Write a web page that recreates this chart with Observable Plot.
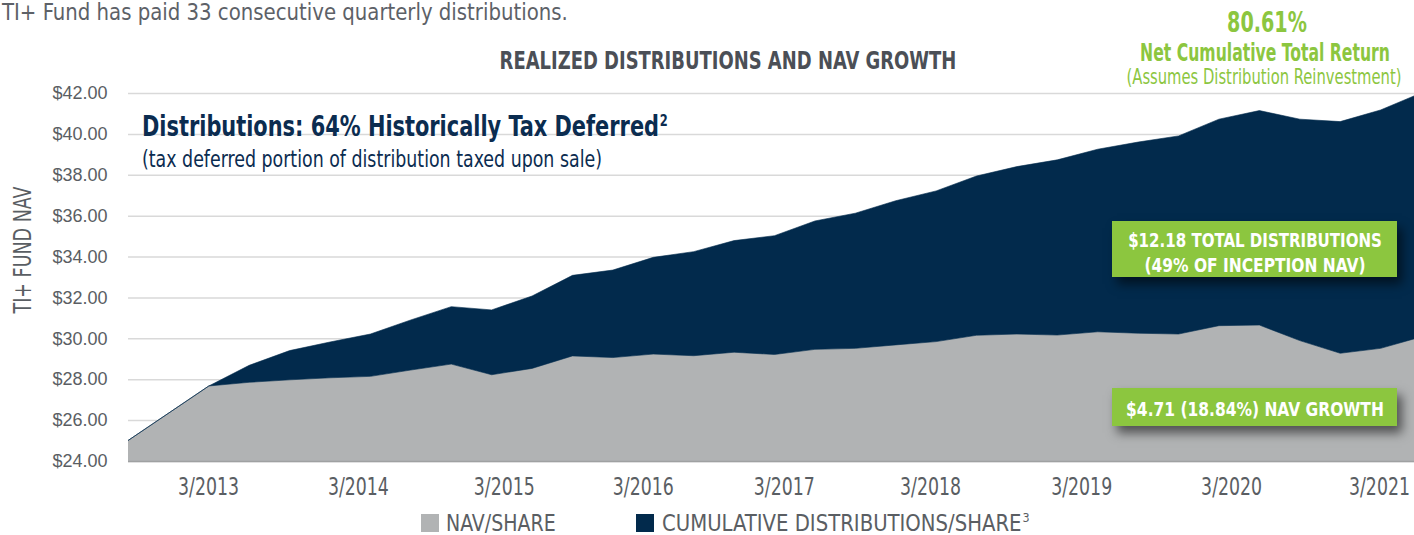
<!DOCTYPE html>
<html>
<head>
<meta charset="utf-8">
<script src="https://cdn.jsdelivr.net/npm/d3@7"></script>
<script src="https://cdn.jsdelivr.net/npm/@observablehq/plot@0.6"></script>
<style>
  html, body { margin: 0; padding: 0; background: #fff; overflow: hidden; }
  #wrap { position: relative; width: 1414px; height: 535px; overflow: hidden; }
  #chart { width: 1421px; height: 505px; }
  #chart svg { max-width: none !important; display: block; }
  .narrow { font-family: "Liberation Sans Narrow", "Arial Narrow", "DejaVu Sans Condensed", sans-serif; }
  .abs { position: absolute; white-space: nowrap; line-height: 1; }
  .L { transform-origin: 0 50%; }
  .green { color: #8cc63f; }
  .box { position: absolute; background: #8cc63f; color: #fff; font-weight: bold;
         box-shadow: 5px 7px 10px rgba(0,0,0,0.55); font-size: 20px; }
  .box span { position: absolute; left: 50%; white-space: nowrap; line-height: 1; }
  #legend { position: relative; width: 1414px; height: 30px; }
  .sw { position: absolute; width: 18px; height: 18px; top: 9px; }
  .lt { position: absolute; top: 7px; font-size: 23px; color: #5a5e63; line-height: 1; white-space: nowrap; transform-origin: 0 50%; }
</style>
</head>
<body>
<div id="wrap">
  <div id="chart"></div>
  <div id="legend" class="narrow">
    <div class="sw" id="sw0" style="left:421px;"></div>
    <div class="lt" id="lt0" style="left:446px;" data-w="110"></div>
    <div class="sw" id="sw1" style="left:636px;"></div>
    <div class="lt" id="lt1" style="left:662px;" data-w="368"></div>
  </div>

  <div class="abs narrow L" style="left:2px; top:2px; font-size:23px; line-height:20px; color:#5d6167;" data-w="566">TI+ Fund has paid 33 consecutive quarterly distributions.</div>
  <div class="abs narrow" style="left:728px; top:48px; font-size:25px; font-weight:bold; color:#4b4f56;" data-w="457" data-c="1">REALIZED DISTRIBUTIONS AND NAV GROWTH</div>

  <div class="abs narrow green" style="left:1267px; top:8px; font-size:29px; font-weight:bold;" data-w="80" data-c="1">80.61%</div>
  <div class="abs narrow green" style="left:1265px; top:41px; font-size:24px; font-weight:bold;" data-w="250" data-c="1">Net Cumulative Total Return</div>
  <div class="abs narrow green" style="left:1264px; top:67px; font-size:21px;" data-w="275" data-c="1">(Assumes Distribution Reinvestment)</div>

  <div class="abs narrow L" style="left:142px; top:112px; font-size:29px; font-weight:bold; color:#0b2c50;" data-w="526">Distributions: 64% Historically Tax Deferred<span style="font-size:16px; position:relative; top:-10px; margin-left:1px;">2</span></div>
  <div class="abs narrow L" style="left:142px; top:148px; font-size:23px; color:#0b2c50;" data-w="460">(tax deferred portion of distribution taxed upon sale)</div>

  <div class="box narrow" style="left:1112px; top:221px; width:285px; height:56px;"><span style="top:8.5px;" data-w="254" data-c="1">$12.18 TOTAL DISTRIBUTIONS</span><span style="top:33.5px;" data-w="221" data-c="1">(49% OF INCEPTION NAV)</span></div>
  <div class="box narrow" style="left:1112px; top:388px; width:285px; height:38px;"><span style="top:10.5px;" data-w="258" data-c="1">$4.71 (18.84%) NAV GROWTH</span></div>

  <div class="abs narrow" id="ylab" style="left:22px; top:250px; font-size:25px; color:#5a5e63;" data-w="127" data-r="1">TI+ FUND NAV</div>
</div>

<script>
// ---- Data ----
// quarter index: 0 = inception, then quarterly points
const quarterIndex = [0, 2, 3, 4, 5, 6, 7, 8, 9, 10, 11, 12, 13, 14, 15, 16, 17, 18, 19, 20, 21, 22, 23, 24, 25, 26, 27, 28, 29, 30, 31, 32];
const navPerShare = [25.00, 27.67, 27.85, 27.97, 28.07, 28.14, 28.45, 28.74, 28.22, 28.53, 29.14, 29.06, 29.23, 29.15, 29.32, 29.21, 29.46, 29.51, 29.68, 29.84, 30.15, 30.21, 30.16, 30.32, 30.25, 30.21, 30.62, 30.65, 29.89, 29.27, 29.51, 30.07];
const cumulativeDistributions = [0, 0, 0.83, 1.43, 1.75, 2.07, 2.45, 2.81, 3.17, 3.54, 3.94, 4.28, 4.73, 5.09, 5.46, 5.81, 6.28, 6.61, 7.05, 7.37, 7.79, 8.19, 8.57, 8.93, 9.35, 9.69, 10.10, 10.49, 10.83, 11.33, 11.66, 11.93];

const seriesNames = ["NAV/SHARE", "CUMULATIVE DISTRIBUTIONS/SHARE"];
const seriesColors = ["#b1b3b4", "#022a4c"];

const yTicks = [24, 26, 28, 30, 32, 34, 36, 38, 40, 42];
const xTickPositions = [1.98, 5.69, 9.30, 12.74, 16.23, 19.85, 23.59, 27.30, 30.96];
const xTickLabels = ["3/2013", "3/2014", "3/2015", "3/2016", "3/2017", "3/2018", "3/2019", "3/2020", "3/2021"];

// ---- Build table ----
const rows = quarterIndex.flatMap((q, i) => [
  {q, series: seriesNames[0], value: navPerShare[i]},
  {q, series: seriesNames[1], value: cumulativeDistributions[i]}
]);
const tickLabel = new Map(xTickPositions.map((p, i) => [p, xTickLabels[i]]));

const narrow = '"Liberation Sans Narrow", "Arial Narrow", "DejaVu Sans Condensed", sans-serif';

const chart = Plot.plot({
  width: 1421,
  height: 505,
  marginLeft: 128,
  marginRight: 0,
  marginTop: 93,
  marginBottom: 44,
  style: {background: "transparent", color: "#5a5e63", maxWidth: "none"},
  x: {domain: [0, 32]},
  y: {domain: [24, 42]},
  color: {domain: seriesNames, range: seriesColors},
  marks: [
    Plot.gridY(yTicks, {stroke: "#d9d9d9", strokeOpacity: 1, strokeWidth: 1.5}),
    Plot.areaY(rows, {x: "q", y: "value", fill: "series", stroke: "series", strokeWidth: 0.6, clip: true}),
    Plot.ruleY([24], {stroke: "#9fa1a2", strokeWidth: 1.5}),
    Plot.axisY(yTicks, {
      tickSize: 0, tickPadding: 21, label: null,
      tickFormat: d => "$" + d.toFixed(2),
      fontSize: 18, fontFamily: '"Liberation Sans", Arial, sans-serif', fill: "#5a5e63"
    }),
    Plot.axisX(xTickPositions, {
      tickSize: 0, tickPadding: 16, label: null,
      tickFormat: d => tickLabel.get(d),
      fontSize: 24, fontFamily: narrow, fill: "#5a5e63"
    })
  ]
});
document.getElementById("chart").appendChild(chart);

// condense the x tick labels horizontally (narrow type in the reference),
// keeping each label centred where Plot placed it
chart.querySelectorAll("text").forEach(t => {
  if (!xTickLabels.includes(t.textContent.trim())) return;
  const cur = t.getComputedTextLength();
  if (!(cur > 0)) { t.style.fontSize = "20px"; return; }
  const s = 61 / cur;
  const r0 = t.getBoundingClientRect();
  const x = +t.getAttribute("x") || 0, y = +t.getAttribute("y") || 0;
  t.removeAttribute("x"); t.removeAttribute("y");
  const base = t.getAttribute("transform") || "";
  const tf = `${base} translate(${x},${y}) scale(${s},1)`;
  t.setAttribute("transform", tf);
  const r1 = t.getBoundingClientRect();
  const fx = (r0.x + r0.width / 2) - (r1.x + r1.width / 2);
  const fy = (r0.y + r0.height / 2) - (r1.y + r1.height / 2);
  t.setAttribute("transform", `translate(${fx},${fy}) ${tf}`);
});

// ---- Legend (HTML, below the SVG) ----
seriesNames.forEach((name, i) => {
  document.getElementById("sw" + i).style.background = seriesColors[i];
  const el = document.getElementById("lt" + i);
  el.textContent = name;
  if (i === 1) {
    const sup = document.createElement("span");
    sup.textContent = "3";
    sup.style.cssText = "font-size:13px; position:relative; top:-9px; margin-left:1px;";
    el.appendChild(sup);
  }
});

// ---- Fit condensed text widths ----
document.querySelectorAll("[data-w]").forEach(el => {
  const w = el.offsetWidth;
  const s = (+el.dataset.w) / w;
  if (el.dataset.r) el.style.transform = `translate(-50%,-50%) rotate(-90deg) scaleX(${s})`;
  else if (el.dataset.c) el.style.transform = `translateX(-50%) scaleX(${s})`;
  else el.style.transform = `scaleX(${s})`;
});
</script>
</body>
</html>
